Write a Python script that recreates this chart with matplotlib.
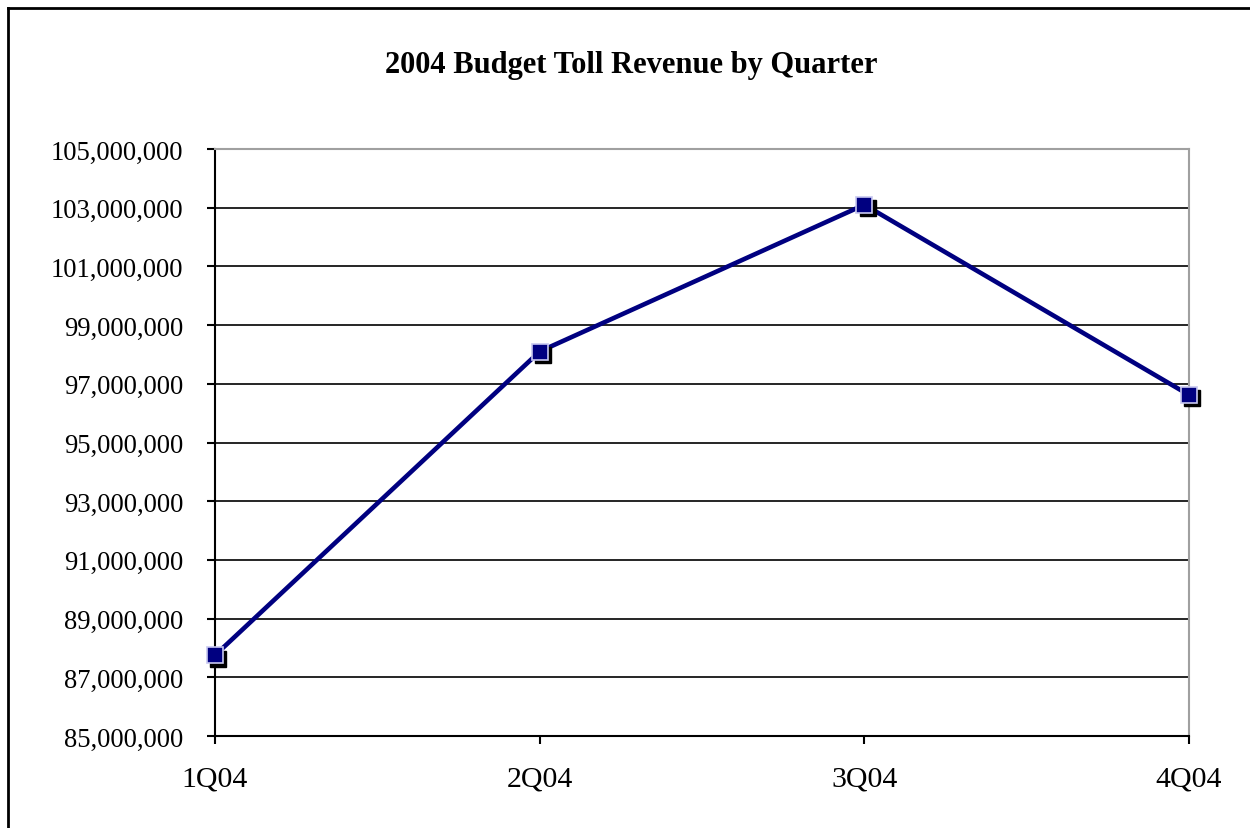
import matplotlib
matplotlib.use("Agg")
import matplotlib.pyplot as plt
import matplotlib.transforms as mtransforms
from matplotlib.ticker import FuncFormatter, FixedLocator
from matplotlib.lines import Line2D

quarters = ["1Q04", "2Q04", "3Q04", "4Q04"]
revenue = [87750000, 98100000, 103100000, 96620000]
y_ticks = [85000000, 87000000, 89000000, 91000000, 93000000, 95000000,
           97000000, 99000000, 101000000, 103000000, 105000000]
title = "2004 Budget Toll Revenue by Quarter"

plt.rcParams['font.family'] = ['Liberation Serif', 'DejaVu Serif']

fig = plt.figure(figsize=(12.5, 8.29), dpi=100)
ax = fig.add_axes([215/1250, 1-737/829, (1189-215)/1250, (737-150)/829])

x = list(range(len(quarters)))
navy = "#000080"
ax.plot(x, revenue, color=navy, lw=3.3, zorder=3, solid_capstyle='butt')
shadow = mtransforms.offset_copy(ax.transData, fig=fig, x=2.5, y=-2.5, units='points')
ax.plot(x, revenue, ls='none', marker='s', ms=11.5, color='black', mec='black',
        transform=shadow, zorder=4, clip_on=False)
ax.plot(x, revenue, ls='none', marker='s', ms=11.5, mfc=navy, mec='#c8c8f0',
        mew=1.2, zorder=5, clip_on=False)

ax.set_xlim(0, 3)
ax.set_ylim(y_ticks[0], y_ticks[-1])
ax.yaxis.set_major_locator(FixedLocator(y_ticks))
ax.yaxis.set_major_formatter(FuncFormatter(lambda v, p: f"{int(round(v)):,}"))
ax.set_xticks(x)
ax.set_xticklabels(quarters)
ax.grid(axis='y', color='black', lw=1.2, zorder=1)
ax.set_axisbelow(True)

for s in ['left', 'bottom']:
    ax.spines[s].set_color('black')
    ax.spines[s].set_linewidth(1.5)
for s in ['top', 'right']:
    ax.spines[s].set_color('#a0a0a0')
    ax.spines[s].set_linewidth(1.5)

ax.tick_params(axis='both', direction='out', length=6, width=1.5, color='black')
ax.tick_params(axis='y', pad=17, labelsize=19.2)
ax.tick_params(axis='x', pad=15, labelsize=21.5)

fig.text(631/1250, 1-65/829, title, ha='center', va='center', fontsize=22,
         fontweight='bold')

# outer chart border (left and top visible)
fig.add_artist(Line2D([8/1250, 8/1250], [0, 1-9/829], transform=fig.transFigure,
                      color='black', lw=2))
fig.add_artist(Line2D([8/1250, 1], [1-9/829, 1-9/829], transform=fig.transFigure,
                      color='black', lw=2))

fig.savefig("out.png", dpi=100)
